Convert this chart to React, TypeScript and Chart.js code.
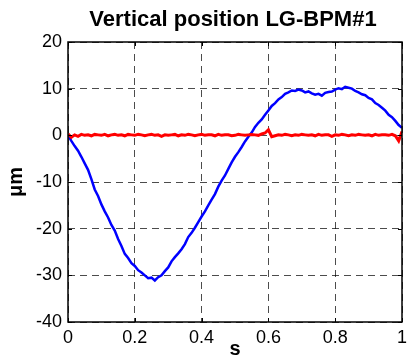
import React, { useEffect, useRef } from "react";
import { Chart, registerables } from "chart.js";

Chart.register(...registerables);

const titleText = "Vertical position LG-BPM#1";
const xAxisLabel = "s";
const yAxisLabel = "μm";
const xTicks = [0, 0.2, 0.4, 0.6, 0.8, 1];
const yTicks = [-40, -30, -20, -10, 0, 10, 20];

const timeS = [
  0.0, 0.01, 0.02, 0.03, 0.04, 0.05, 0.06, 0.07, 0.08, 0.09,
  0.1, 0.11, 0.12, 0.13, 0.14, 0.15, 0.16, 0.17, 0.18, 0.19,
  0.2, 0.21, 0.22, 0.23, 0.24, 0.25, 0.26, 0.27, 0.28, 0.29,
  0.3, 0.31, 0.32, 0.33, 0.34, 0.35, 0.36, 0.37, 0.38, 0.39,
  0.4, 0.41, 0.42, 0.43, 0.44, 0.45, 0.46, 0.47, 0.48, 0.49,
  0.5, 0.51, 0.52, 0.53, 0.54, 0.55, 0.56, 0.57, 0.58, 0.59,
  0.6, 0.61, 0.62, 0.63, 0.64, 0.65, 0.66, 0.67, 0.68, 0.69,
  0.7, 0.71, 0.72, 0.73, 0.74, 0.75, 0.76, 0.77, 0.78, 0.79,
  0.8, 0.81, 0.82, 0.83, 0.84, 0.85, 0.86, 0.87, 0.88, 0.89,
  0.9, 0.91, 0.92, 0.93, 0.94, 0.95, 0.96, 0.97, 0.98, 0.99,
  1.0,
];

const bluePos = [
  0.0, -1.2, -2.3, -3.3, -4.6, -6.0, -7.4, -9.4, -11.6, -13.0,
  -14.8, -16.3, -17.6, -19.2, -20.4, -22.2, -23.7, -25.4, -26.3, -27.4,
  -28.0, -28.9, -29.4, -30.0, -30.6, -30.5, -31.1, -30.4, -30.0, -29.1,
  -28.3, -27.0, -26.1, -25.3, -24.4, -23.3, -21.8, -20.9, -19.8, -18.6,
  -17.4, -16.3, -15.0, -13.8, -12.6, -11.0, -9.7, -8.6, -7.2, -5.8,
  -4.6, -3.6, -2.5, -1.3, -0.3, 0.6, 1.8, 2.7, 3.4, 4.4,
  5.3, 6.3, 6.9, 7.7, 8.2, 8.9, 9.2, 9.6, 9.5, 9.8,
  9.6, 9.2, 9.4, 9.0, 8.7, 8.9, 8.5, 9.1, 9.3, 9.4,
  9.8, 10.1, 9.9, 10.4, 10.2, 10.0, 9.5, 9.2, 8.8, 8.6,
  8.0, 7.7, 6.9, 6.5, 5.9, 5.3, 4.4, 3.9, 3.1, 2.2,
  1.6,
];

const redPos = [
  0.3, -0.4, 0.1, -0.2, 0.2, 0.0, 0.1, -0.1, 0.2, 0.1,
  0.0, 0.2, -0.1, 0.1, 0.2, 0.0, 0.1, -0.1, 0.2, 0.1,
  0.0, 0.2, 0.1, -0.1, 0.1, 0.2, 0.0, 0.1, -0.2, 0.1,
  0.0, 0.1, 0.2, -0.1, 0.1, 0.0, 0.2, 0.1, -0.1, 0.1,
  0.2, 0.0, 0.1, 0.1, -0.1, 0.2, 0.0, 0.1, 0.1, -0.1,
  0.0, 0.2, 0.1, 0.0, 0.1, 0.2, 0.1, 0.0, 0.3, 0.5,
  1.2, -0.3, -0.1, 0.1, 0.0, 0.2, 0.1, -0.1, 0.1, 0.0,
  0.2, 0.1, 0.0, 0.1, -0.1, 0.2, 0.0, 0.1, 0.1, -0.2,
  0.1, 0.0, 0.2, 0.1, -0.1, 0.1, 0.0, 0.2, 0.1, 0.0,
  0.1, -0.1, 0.2, 0.0, 0.1, 0.1, 0.0, 0.2, -0.1, -1.2,
  0.8,
];

const FONT = "'Liberation Sans', Arial, Helvetica, sans-serif";

const framePlugin = {
  id: "matlabFrame",
  afterDatasetsDraw(chart: any) {
    const { ctx, chartArea, scales } = chart;
    const { left, right, top, bottom } = chartArea;
    ctx.save();
    ctx.strokeStyle = "#000";
    ctx.lineWidth = 1.5;
    ctx.setLineDash([]);
    ctx.strokeRect(left, top, right - left, bottom - top);
    ctx.lineWidth = 1;
    const tl = 4;
    ctx.beginPath();
    for (const v of xTicks) {
      const px = Math.round(scales.x.getPixelForValue(v)) + 0.5;
      ctx.moveTo(px, bottom);
      ctx.lineTo(px, bottom - tl);
      ctx.moveTo(px, top);
      ctx.lineTo(px, top + tl);
    }
    for (const v of yTicks) {
      const py = Math.round(scales.y.getPixelForValue(v)) + 0.5;
      ctx.moveTo(left, py);
      ctx.lineTo(left + tl, py);
      ctx.moveTo(right, py);
      ctx.lineTo(right - tl, py);
    }
    ctx.stroke();
    ctx.restore();
  },
  afterDraw(chart: any) {
    const { ctx } = chart;
    ctx.save();
    ctx.fillStyle = "#000";
    ctx.font = `bold 22px ${FONT}`;
    ctx.textAlign = "center";
    ctx.textBaseline = "alphabetic";
    ctx.fillText(titleText, 233, 26);
    ctx.restore();
  },
};

export default function App() {
  const canvasRef = useRef<HTMLCanvasElement | null>(null);

  useEffect(() => {
    const canvas = canvasRef.current;
    if (!canvas) return;
    const chart = new Chart(canvas, {
      type: "line",
      data: {
        datasets: [
          {
            label: "red",
            data: timeS.map((t, i) => ({ x: t, y: redPos[i] })),
            borderColor: "#ff0000",
            borderWidth: 3,
            pointRadius: 0,
            tension: 0,
            fill: false,
          },
          {
            label: "blue",
            data: timeS.map((t, i) => ({ x: t, y: bluePos[i] })),
            borderColor: "#0000ff",
            borderWidth: 2.5,
            pointRadius: 0,
            tension: 0,
            fill: false,
          },
        ],
      },
      options: {
        animation: false,
        responsive: false,
        maintainAspectRatio: false,
        layout: { padding: { top: 42, right: 5, left: 0, bottom: 0 } },
        plugins: {
          legend: { display: false },
          title: { display: false },
          tooltip: { enabled: false },
        },
        scales: {
          x: {
            type: "linear",
            min: 0,
            max: 1,
            afterBuildTicks: (scale: any) => {
              scale.ticks = xTicks.map((v) => ({ value: v }));
            },
            afterFit: (scale: any) => {
              scale.height = 37;
              scale.paddingLeft = 0;
              scale.paddingRight = 0;
            },
            ticks: {
              color: "#000",
              font: { family: FONT, size: 18 },
              padding: 5,
              maxRotation: 0,
              autoSkip: false,
              callback: (v: any) => String(Math.round(Number(v) * 10) / 10),
            },
            grid: {
              color: "rgba(0,0,0,0.7)",
              lineWidth: 1,
              drawTicks: false,
            },
            border: { display: false, dash: [7, 5] },
            title: {
              display: true,
              text: xAxisLabel,
              color: "#000",
              font: { family: FONT, size: 20, weight: "bold", lineHeight: 1 },
              padding: { top: 0, bottom: 0 },
            },
          },
          y: {
            type: "linear",
            min: -40,
            max: 20,
            afterBuildTicks: (scale: any) => {
              scale.ticks = yTicks.map((v) => ({ value: v }));
            },
            afterFit: (scale: any) => {
              scale.width = 68;
              scale.paddingTop = 0;
              scale.paddingBottom = 0;
            },
            ticks: {
              color: "#000",
              font: { family: FONT, size: 18 },
              padding: 6,
              autoSkip: false,
            },
            grid: {
              color: "rgba(0,0,0,0.7)",
              lineWidth: 1,
              drawTicks: false,
            },
            border: { display: false, dash: [7, 5] },
            title: {
              display: true,
              text: yAxisLabel,
              color: "#000",
              font: { family: FONT, size: 20, weight: "bold", lineHeight: 1 },
              padding: { top: 6, bottom: 0 },
            },
          },
        },
      },
      plugins: [framePlugin],
    } as any);
    return () => chart.destroy();
  }, []);

  return (
    <div style={{ position: "fixed", left: 0, top: 0, width: 407, height: 359, background: "#fff" }}>
      <canvas ref={canvasRef} width={407} height={359} style={{ display: "block" }} />
    </div>
  );
}
